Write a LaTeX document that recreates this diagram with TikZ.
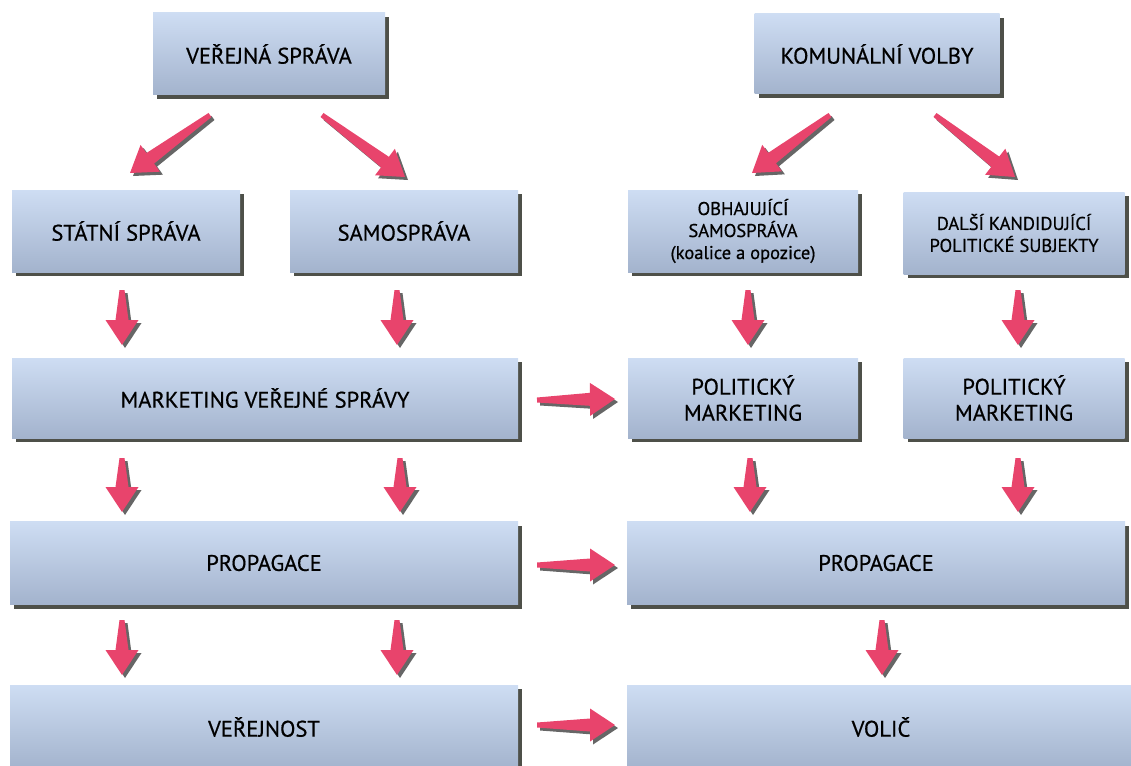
\documentclass[tikz,border=0pt]{standalone}
\usepackage{fontspec}
\setmainfont{PT Sans}[FakeBold=0.6]
\usetikzlibrary{calc,shadows}
\definecolor{boxtop}{HTML}{CEDDF3}
\definecolor{boxbot}{HTML}{A3B3CD}
\definecolor{arrowpink}{HTML}{E8446C}
\definecolor{shadowc}{HTML}{45473F}
\tikzset{
  box/.style={rectangle, top color=boxtop, bottom color=boxbot, draw=none,
    align=center, inner sep=0pt, font=\fontsize{22.5}{26}\selectfont,
    drop shadow={shadow xshift=4pt, shadow yshift=-4pt, fill=shadowc, opacity=0.95}},
  smallbox/.style={box, font=\fontsize{18.5}{22}\selectfont},
  parrowfill/.style={fill=arrowpink,
    drop shadow={shadow xshift=3pt, shadow yshift=-3pt, fill=black, opacity=0.6}},
}
\newcommand\parrow[2]{%
  \path coordinate (pn) at ($(#2)!25pt!(#1)$);
  \fill[parrowfill] ($(#1)!2.5pt!90:(#2)$) -- ($(pn)!6.5pt!90:(#2)$) -- ($(pn)!16.5pt!90:(#2)$)
    -- (#2) -- ($(pn)!16.5pt!-90:(#2)$) -- ($(pn)!6.5pt!-90:(#2)$) -- ($(#1)!2.5pt!-90:(#2)$) -- cycle;
}
\begin{document}
\begin{tikzpicture}[x=1pt,y=-1pt]
\useasboundingbox (0,0) rectangle (1131,765);
\begin{scope}
\clip (0,0) rectangle (1131,765);
% boxes
\node[box, minimum width=232, minimum height=82] (vs) at (269,54) {VEŘEJNÁ SPRÁVA};
\node[box, minimum width=245, minimum height=80] (kv) at (877,54) {KOMUNÁLNÍ VOLBY};
\node[box, minimum width=228, minimum height=82] (ss) at (126,231) {STÁTNÍ SPRÁVA};
\node[box, minimum width=228, minimum height=82] (sam) at (404,231) {SAMOSPRÁVA};
\node[smallbox, minimum width=230, minimum height=82] (obh) at (743,231) {OBHAJUJÍCÍ\\SAMOSPRÁVA\\(koalice a opozice)};
\node[smallbox, minimum width=221, minimum height=82] (dal) at (1014,233) {DALŠÍ KANDIDUJÍCÍ\\POLITICKÉ SUBJEKTY};
\node[box, minimum width=506, minimum height=80] (mvs) at (265,398) {MARKETING VEŘEJNÉ SPRÁVY};
\node[box, minimum width=230, minimum height=80] (pm1) at (743,398) {POLITICKÝ\\MARKETING};
\node[box, minimum width=221, minimum height=80] (pm2) at (1014,398) {POLITICKÝ\\MARKETING};
\node[box, minimum width=508, minimum height=83] (propl) at (264,563) {PROPAGACE};
\node[box, minimum width=498, minimum height=83] (propr) at (876,563) {PROPAGACE};
\node[box, minimum width=508, minimum height=84] (ver) at (264,727) {VEŘEJNOST};
\node[box, minimum width=508, minimum height=84] (vol) at (881,727) {VOLIČ};
% arrow end points
\coordinate (d1a) at (210,115); \coordinate (d1b) at (130,173);
\coordinate (d2a) at (322,115); \coordinate (d2b) at (405,177);
\coordinate (d3a) at (830,115); \coordinate (d3b) at (752,173);
\coordinate (d4a) at (935,115); \coordinate (d4b) at (1015,177);
\coordinate (v1a) at (122,290); \coordinate (v1b) at (122,345);
\coordinate (v2a) at (397,290); \coordinate (v2b) at (397,345);
\coordinate (v3a) at (748,290); \coordinate (v3b) at (748,345);
\coordinate (v4a) at (1018,290); \coordinate (v4b) at (1018,345);
\coordinate (w1a) at (122,458); \coordinate (w1b) at (122,512);
\coordinate (w2a) at (400,458); \coordinate (w2b) at (400,512);
\coordinate (w3a) at (750,458); \coordinate (w3b) at (750,512);
\coordinate (w4a) at (1018,458); \coordinate (w4b) at (1018,512);
\coordinate (u1a) at (122,620); \coordinate (u1b) at (122,675);
\coordinate (u2a) at (397,620); \coordinate (u2b) at (397,675);
\coordinate (u3a) at (882,620); \coordinate (u3b) at (882,675);
\coordinate (h1a) at (537,400); \coordinate (h1b) at (615,399);
\coordinate (h2a) at (537,565); \coordinate (h2b) at (615,565);
\coordinate (h3a) at (537,725); \coordinate (h3b) at (615,725);
% arrows
\parrow{d1a}{d1b}\parrow{d2a}{d2b}\parrow{d3a}{d3b}\parrow{d4a}{d4b}
\parrow{v1a}{v1b}\parrow{v2a}{v2b}\parrow{v3a}{v3b}\parrow{v4a}{v4b}
\parrow{w1a}{w1b}\parrow{w2a}{w2b}\parrow{w3a}{w3b}\parrow{w4a}{w4b}
\parrow{u1a}{u1b}\parrow{u2a}{u2b}\parrow{u3a}{u3b}
\parrow{h1a}{h1b}\parrow{h2a}{h2b}\parrow{h3a}{h3b}
\end{scope}
\end{tikzpicture}
\end{document}
